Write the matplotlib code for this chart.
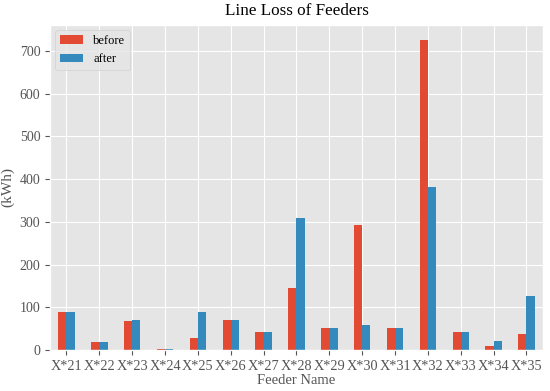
import matplotlib
matplotlib.use("Agg")
import matplotlib.pyplot as plt
import numpy as np

plt.style.use("ggplot")
plt.rcParams['font.family'] = ['Liberation Serif', 'DejaVu Serif']

feeders = ["X*21", "X*22", "X*23", "X*24", "X*25", "X*26", "X*27", "X*28",
           "X*29", "X*30", "X*31", "X*32", "X*33", "X*34", "X*35"]
before = [88, 19, 68, 2, 27, 70, 42, 146, 51, 292, 51, 725, 43, 10, 37]
after = [88, 19, 70, 2, 88, 70, 42, 309, 51, 58, 51, 382, 43, 20, 126]

fig, ax = plt.subplots(figsize=(5.5, 3.91), dpi=100)
x = np.arange(len(feeders))
w = 0.25
ax.bar(x - w / 2, before, w, label="before", color="#E24A33")
ax.bar(x + w / 2, after, w, label="after", color="#348ABD")
ax.set_xticks(x)
ax.set_xticklabels(feeders, fontsize=10.3)
ax.tick_params(axis='y', labelsize=10)
ax.set_xlim(-0.5, len(feeders) - 0.5)
ax.set_ylim(0, 761)
ax.set_title("Line Loss of Feeders", fontsize=12.3, color="black", pad=7)
ax.set_xlabel("Feeder Name", fontsize=10.5, labelpad=1)
ax.set_ylabel("(kWh)", fontsize=11)
ax.legend(loc="upper left", fontsize=9, handlelength=1.85, borderaxespad=0.4)
fig.subplots_adjust(left=0.091, right=0.987, top=0.936, bottom=0.105)
fig.savefig("out.png", dpi=100)
